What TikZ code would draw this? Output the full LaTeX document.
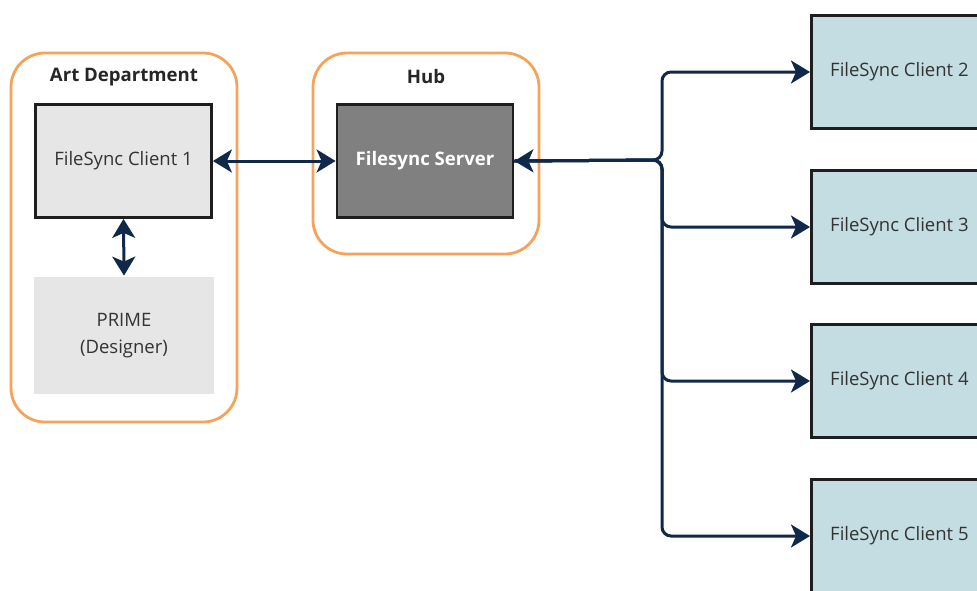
\documentclass[tikz,border=0pt]{standalone}
\usepackage{fontspec}
\setmainfont{Open Sans}
\usetikzlibrary{arrows.meta,calc}
\definecolor{navy}{HTML}{10294A}
\definecolor{orng}{HTML}{F5A35C}
\definecolor{boxline}{HTML}{1E1E1E}
\definecolor{lgray}{HTML}{E6E6E6}
\definecolor{dgray}{HTML}{808080}
\definecolor{lblue}{HTML}{C4DDE2}
\tikzset{
  container/.style={draw=orng,line width=2.8pt,rounded corners=34pt},
  title/.style={font=\fontsize{18.6}{22}\selectfont\bfseries,text=black!85},
  box/.style={draw=boxline,line width=2.8pt,minimum width=176pt,minimum height=113pt,inner sep=0pt,align=center,font=\fontsize{18.5}{27}\selectfont,text=black!80},
  conn/.style={draw=navy,line width=3pt},
  both/.style={{Stealth[length=19pt,width=23pt,inset=5pt]}-{Stealth[length=19pt,width=23pt,inset=5pt]}},
  fwd/.style={-{Stealth[length=19pt,width=23pt,inset=5pt]}}
}
\begin{document}
\begin{tikzpicture}[x=1pt,y=-1pt]
\useasboundingbox (0,0) rectangle (977,590);
% containers
\draw[container] (11,53) rectangle (237,422);
\draw[container] (313,53) rectangle (539,254);
\node[title] (tart) at (124,77) {Art Department};
\node[title] (thub) at (426,77) {Hub};
% nodes
\node[box,fill=lgray] (c1) at (123.5,161) {FileSync Client 1};
\node[box,draw=none,fill=lgray,minimum width=180pt,minimum height=117pt] (prime) at (124,335.5) {PRIME\\(Designer)};
\node[box,fill=dgray,text=white,font=\fontsize{18.6}{22}\selectfont\bfseries] (srv) at (425,161) {Filesync Server};
\node[box,fill=lblue,anchor=west] (c2) at (810,72) {FileSync Client 2};
\node[box,fill=lblue,anchor=west] (c3) at (810,227) {FileSync Client 3};
\node[box,fill=lblue,anchor=west] (c4) at (810,381) {FileSync Client 4};
\node[box,fill=lblue,anchor=west] (c5) at (810,536) {FileSync Client 5};
\coordinate (junc) at (662,160);
% connectors
\draw[conn,both] (c1.east) -- (srv.west);
\draw[conn,both] (c1.south) -- (prime.north);
\draw[conn,both,rounded corners=9pt] (srv.east) -- (junc) |- (c2.west);
\draw[conn,fwd,rounded corners=9pt] (srv.east) -- (junc) |- (c3.west);
\draw[conn,fwd,rounded corners=9pt] (srv.east) -- (junc) |- (c4.west);
\draw[conn,fwd,rounded corners=9pt] (srv.east) -- (junc) |- (c5.west);
\end{tikzpicture}
\end{document}
